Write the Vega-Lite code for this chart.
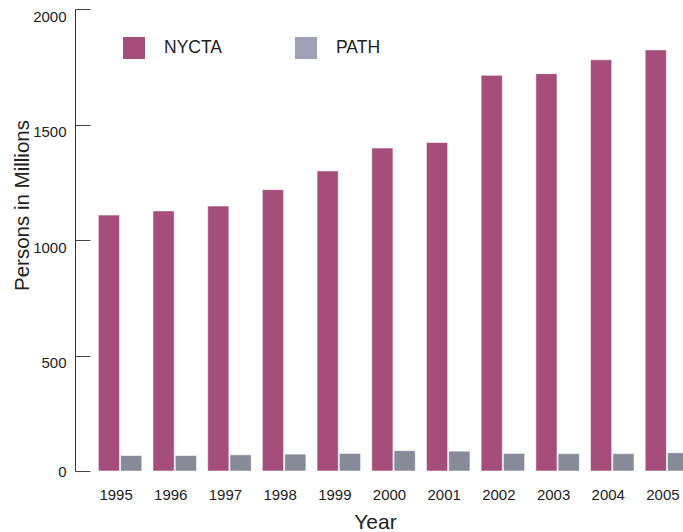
{
  "$schema": "https://vega.github.io/schema/vega-lite/v6.json",
  "width": 607,
  "height": 462,
  "autosize": {"type": "none"},
  "padding": {"left": 75, "top": 9, "right": 1, "bottom": 61},
  "background": "white",
  "config": {
    "view": {"stroke": null},
    "font": "Liberation Sans",
    "axis": {"labelColor": "#222222", "titleColor": "#222222", "labelFont": "Liberation Sans", "titleFont": "Liberation Sans", "titleFontWeight": "normal"},
    "legend": {"labelColor": "#222222", "labelFont": "Liberation Sans"}
  },
  "data": {
    "values": [
      {"year": "1995", "agency": "NYCTA", "riders": 1108},
      {"year": "1996", "agency": "NYCTA", "riders": 1126},
      {"year": "1997", "agency": "NYCTA", "riders": 1147},
      {"year": "1998", "agency": "NYCTA", "riders": 1218},
      {"year": "1999", "agency": "NYCTA", "riders": 1299},
      {"year": "2000", "agency": "NYCTA", "riders": 1398},
      {"year": "2001", "agency": "NYCTA", "riders": 1422},
      {"year": "2002", "agency": "NYCTA", "riders": 1713},
      {"year": "2003", "agency": "NYCTA", "riders": 1720},
      {"year": "2004", "agency": "NYCTA", "riders": 1780},
      {"year": "2005", "agency": "NYCTA", "riders": 1823},
      {"year": "1995", "agency": "PATH", "riders": 67},
      {"year": "1996", "agency": "PATH", "riders": 67},
      {"year": "1997", "agency": "PATH", "riders": 70},
      {"year": "1998", "agency": "PATH", "riders": 73},
      {"year": "1999", "agency": "PATH", "riders": 76},
      {"year": "2000", "agency": "PATH", "riders": 88},
      {"year": "2001", "agency": "PATH", "riders": 86},
      {"year": "2002", "agency": "PATH", "riders": 76},
      {"year": "2003", "agency": "PATH", "riders": 75},
      {"year": "2004", "agency": "PATH", "riders": 75},
      {"year": "2005", "agency": "PATH", "riders": 79}
    ]
  },
  "encoding": {
    "x": {
      "field": "year",
      "type": "nominal",
      "scale": {"range": [0, 637], "paddingInner": 0.204, "paddingOuter": 0.426},
      "axis": {
        "title": "Year",
        "labelAngle": 0,
        "domain": false,
        "ticks": false,
        "labelFontSize": 15,
        "labelBaseline": "alphabetic",
        "labelPadding": 28,
        "labelOffset": -4,
        "titleFontSize": 21,
        "titleX": 300,
        "titleY": 57,
        "titleBaseline": "alphabetic",
        "titleAlign": "center"
      }
    },
    "xOffset": {"field": "agency", "type": "nominal", "scale": {"paddingInner": 0.05}},
    "y": {
      "field": "riders",
      "type": "quantitative",
      "scale": {"domain": [0, 2000]},
      "axis": {
        "title": "Persons in Millions",
        "values": [0, 500, 1000, 1500, 2000],
        "format": "d",
        "grid": false,
        "domainColor": "#333333",
        "tickColor": "#444444",
        "tickSize": -15,
        "labelPadding": 24,
        "labelFontSize": 15,
        "labelBaseline": {"condition": {"test": "datum.value === 0", "value": "middle"}, "value": "top"},
        "titleFontSize": 20.5,
        "titleX": -47,
        "titleY": 196,
        "titleAngle": -90,
        "titleBaseline": "alphabetic",
        "titleAlign": "center"
      }
    }
  },
  "layer": [
    {
      "mark": {"type": "bar", "stroke": "#ffffff", "strokeOpacity": 0.55, "strokeWidth": 1},
      "encoding": {
        "color": {
          "field": "agency",
          "type": "nominal",
          "scale": {"domain": ["NYCTA", "PATH"], "range": ["#a54e7b", "#868a99"]},
          "legend": null
        }
      }
    },
    {
      "mark": {"type": "bar", "opacity": 0},
      "encoding": {
        "color": {
          "field": "agency",
          "type": "nominal",
          "scale": {"domain": ["NYCTA", "PATH"], "range": ["#a54e7b", "#9fa2b5"]},
          "legend": {
            "title": null,
            "orient": "none",
            "legendX": 48,
            "legendY": 28,
            "direction": "horizontal",
            "symbolType": "square",
            "symbolSize": 484,
            "symbolStrokeWidth": 0,
            "symbolOpacity": 1,
            "labelFontSize": 17.5,
            "labelOffset": 19,
            "columnPadding": 72
          }
        }
      }
    }
  ],
  "resolve": {"scale": {"color": "independent"}}
}
